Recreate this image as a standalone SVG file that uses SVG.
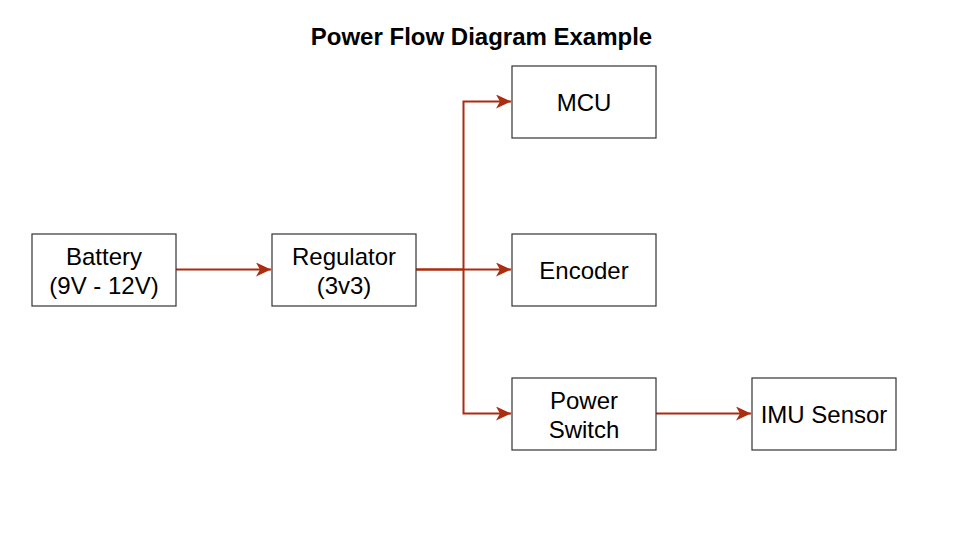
<svg xmlns="http://www.w3.org/2000/svg" width="961" height="538" viewBox="0 0 961 538">
<style>
.box{fill:#fff;stroke:#333;stroke-width:1.2}
.lbl{font-family:"Liberation Sans",Arial,sans-serif;font-size:24px;fill:#000;text-anchor:middle}
.title{font-family:"Liberation Sans",Arial,sans-serif;font-size:24px;font-weight:bold;fill:#000;text-anchor:middle}
.edge{fill:none;stroke:#ab2d0f;stroke-width:2}
</style>
<defs>
<marker id="arr" markerUnits="userSpaceOnUse" markerWidth="16" markerHeight="14" viewBox="-15 -7 16 14" refX="0" refY="0" orient="auto">
<path d="M0,0 L-15,-7 L-11,0 L-15,7 Z" fill="#ab2d0f"/>
</marker>
</defs>
<rect width="961" height="538" fill="#fff"/>
<text class="title" x="481.5" y="45">Power Flow Diagram Example</text>
<g id="connectors">
<path class="edge" d="M176,269.5 H271" marker-end="url(#arr)"/>
<path class="edge" d="M416,269.5 H463.5 V101.5 H511" marker-end="url(#arr)"/>
<path class="edge" d="M416,269.5 H511" marker-end="url(#arr)"/>
<path class="edge" d="M463.5,269.5 V413.5 H511" marker-end="url(#arr)"/>
<path class="edge" d="M656,413.5 H751" marker-end="url(#arr)"/>
</g>
<g id="battery"><rect class="box" x="32" y="234" width="144" height="72"/><text class="lbl" x="104" y="265">Battery</text><text class="lbl" x="104" y="294">(9V - 12V)</text></g>
<g id="regulator"><rect class="box" x="272" y="234" width="144" height="72"/><text class="lbl" x="344" y="265">Regulator</text><text class="lbl" x="344" y="294">(3v3)</text></g>
<g id="mcu"><rect class="box" x="512" y="66" width="144" height="72"/><text class="lbl" x="584" y="111">MCU</text></g>
<g id="encoder"><rect class="box" x="512" y="234" width="144" height="72"/><text class="lbl" x="584" y="279">Encoder</text></g>
<g id="powerswitch"><rect class="box" x="512" y="378" width="144" height="72"/><text class="lbl" x="584" y="409">Power</text><text class="lbl" x="584" y="438">Switch</text></g>
<g id="imu"><rect class="box" x="752" y="378" width="144" height="72"/><text class="lbl" x="824" y="423">IMU Sensor</text></g>
</svg>
